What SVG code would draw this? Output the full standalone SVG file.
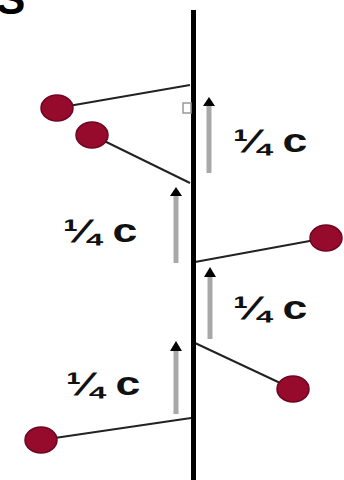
<svg xmlns="http://www.w3.org/2000/svg" width="344" height="480" viewBox="0 0 344 480">
<style>
.dot{fill:#960a2c;stroke:#6e0620;stroke-width:1.5}
.lnk{stroke:#222;stroke-width:2;fill:none}
.shaft{stroke:#a8a8a8;stroke-width:5}
.head{fill:#000}
.lbl{font-family:"Liberation Sans",Arial,sans-serif;font-weight:bold;font-size:33px;fill:#111}
</style>
<rect width="344" height="480" fill="#fff"/>
<text x="-4" y="14" style="font-family:'Liberation Sans',Arial,sans-serif;font-weight:bold;font-size:44px;fill:#000">S</text>
<g id="connectors">
<line class="lnk" x1="57" y1="108" x2="190" y2="85"/>
<line class="lnk" x1="92" y1="135" x2="190" y2="183"/>
<line class="lnk" x1="326" y1="238" x2="195" y2="262"/>
<line class="lnk" x1="293" y1="389" x2="195" y2="343"/>
<line class="lnk" x1="41" y1="440" x2="191" y2="418"/>
</g>
<g id="axis"><rect x="191" y="10" width="5" height="470" fill="#000"/></g>
<rect x="183" y="103" width="8" height="10" fill="#fff" stroke="#999" stroke-width="1.5"/>
<g id="dot1"><ellipse class="dot" cx="57" cy="108" rx="16" ry="13"/></g>
<g id="dot2"><ellipse class="dot" cx="92" cy="135" rx="16" ry="13"/></g>
<g id="dot3"><ellipse class="dot" cx="326" cy="238" rx="16" ry="13"/></g>
<g id="dot4"><ellipse class="dot" cx="293" cy="389" rx="16" ry="13"/></g>
<g id="dot5"><ellipse class="dot" cx="41" cy="440" rx="16" ry="13"/></g>
<g id="arrow1"><line class="shaft" x1="209" y1="105" x2="209" y2="173"/><polygon class="head" points="209,97 203,106 215,106"/></g>
<g id="arrow2"><line class="shaft" x1="176" y1="195" x2="176" y2="263"/><polygon class="head" points="176,187 170,196 182,196"/></g>
<g id="arrow3"><line class="shaft" x1="210" y1="276" x2="210" y2="339"/><polygon class="head" points="210,267 204,277 216,277"/></g>
<g id="arrow4"><line class="shaft" x1="176" y1="350" x2="176" y2="414"/><polygon class="head" points="176,341 170,351 182,351"/></g>
<text class="lbl" transform="translate(233,152) scale(1.35,1)">¼ c</text>
<text class="lbl" transform="translate(63,242) scale(1.35,1)">¼ c</text>
<text class="lbl" transform="translate(233,319) scale(1.35,1)">¼ c</text>
<text class="lbl" transform="translate(66,395) scale(1.35,1)">¼ c</text>
</svg>
